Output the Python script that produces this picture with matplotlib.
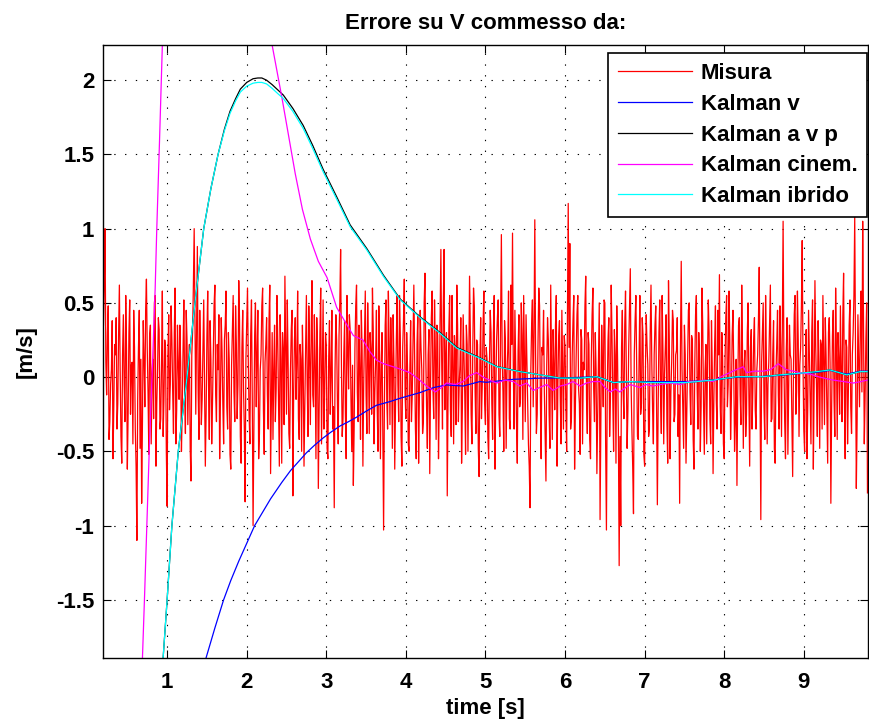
import numpy as np
import matplotlib
matplotlib.use("Agg")
import matplotlib.pyplot as plt

plt.rcParams["font.family"] = ["Liberation Sans", "DejaVu Sans"]
plt.rcParams["axes.unicode_minus"] = False

# measurement error (red), one value every 0.01 s from 0.2 to 9.8 s
misura = [
    0.35, 0.62, 1.00, 0.10, -0.12, 0.30, 0.48, -0.42, -0.30, -0.05, 0.05, 0.38, -0.55, -0.20, 0.22, 0.15, 0.40, -0.35, -0.18, 0.28, 0.62, 0.05, -0.40, -0.58, 0.15, 0.42, -0.05, -0.30, 0.55, 0.18, -0.62, -0.25, 0.30, 0.52, -0.25, 0.08, 0.10, -0.45, 0.45, 0.20, -0.35, -0.60, -1.10, -0.15, 0.20, 0.45, -0.48, 0.12,
    -0.85, -0.30, 0.38, 0.12, -0.20, 0.45, 0.66, 0.20, -0.10, -0.52, 0.28, 0.35, -0.45, 0.02, 0.12, -0.28, 0.50, 0.55, -0.60, -0.18, 0.05, 0.40, 0.32, -0.35, -0.28, 0.10, 0.58, -0.40, -0.15, 0.25, 0.20, -0.50, -0.87, 0.15, 0.42, -0.22, -0.05, 0.48, 0.25, -0.10, -0.38, 0.30, 0.60, -0.45, -0.22, 0.35, 0.08, -0.15,
    0.35, 0.10, -0.50, -0.22, 0.18, 0.52, -0.08, -0.38, 0.45, 0.25, -0.32, 0.05, 0.22, -0.48, -0.70, 0.15, 0.30, 0.62, 1.00, 0.40, -0.25, 0.30, 0.88, -0.10, -0.42, 0.45, 0.10, -0.32, -0.15, 0.20, 0.52, -0.05, -0.60, -0.25, 0.28, 0.58, -0.05, -0.42, 0.38, 0.12, -0.45, -0.18, 0.15, 0.48, 0.62, -0.12, -0.30, 0.22,
    0.05, 0.42, -0.55, -0.15, 0.40, 0.18, -0.18, -0.45, 0.25, 0.35, 0.58, -0.20, -0.35, 0.30, 0.12, -0.52, -0.62, 0.08, 0.32, 0.55, -0.10, -0.30, 0.48, 0.22, -0.28, -0.05, 0.65, 0.38, -0.40, -0.58, 0.20, 0.45, -0.08, -0.35, -0.84, 0.12, 0.35, 0.60, 0.10, -0.25, -0.45, 0.28, 0.52, -0.15, -1.00, -0.40, 0.28, 0.50,
    -0.20, 0.15, 0.45, -0.55, -0.38, 0.05, 0.15, 0.48, 0.60, -0.22, -0.52, 0.10, 0.22, 0.40, -0.12, -0.35, 0.38, 0.62, -0.65, -0.15, 0.30, -0.42, 0.05, 0.35, -0.30, -0.08, 0.55, 0.25, -0.18, -0.60, 0.42, 0.12, -0.58, 0.30, 0.18, -0.32, 0.68, 0.20, -0.25, 0.52, 0.10, -0.38, -0.48, 0.05, 0.32, 0.45, -0.80, -0.10,
    0.25, 0.40, -0.15, 0.10, 0.58, -0.28, -0.42, 0.22, 0.12, -0.50, 0.35, 0.05, -0.60, -0.18, 0.20, 0.55, -0.05, -0.40, 0.48, 0.15, -0.32, 0.28, 0.65, -0.12, -0.20, 0.42, 0.08, -0.55, 0.40, 0.18, -0.75, -0.22, 0.30, 0.60, -0.45, 0.02, 0.52, -0.35, -0.10, 0.30, 0.22, -0.48, -0.55, 0.12, 0.38, -0.25, 0.02, 0.45,
    -0.35, -0.20, -0.88, 0.05, 0.42, 0.25, -0.18, -0.45, 0.28, 0.50, 0.86, 0.10, -0.40, -0.28, 0.15, 0.38, -0.25, -0.55, 0.55, 0.20, -0.08, 0.42, 0.32, -0.15, -0.50, 0.08, -0.73, -0.35, 0.20, 0.48, 0.62, -0.10, -0.30, 0.35, 0.05, -0.42, 0.45, 0.18, -0.60, -0.05, 0.25, 0.58, -0.12, -0.38, 0.50, 0.12, -0.38, 0.30,
    0.18, -0.25, 0.60, 0.32, -0.45, -0.10, 0.10, 0.45, -0.22, -0.50, 0.48, 0.15, -0.55, 0.05, 0.30, -0.40, -1.03, -0.20, 0.35, 0.52, -0.15, -0.35, 0.58, 0.22, -0.32, 0.40, 0.12, -0.48, 0.42, 0.10, -0.62, -0.18, 0.25, 0.55, -0.05, -0.30, 0.55, 0.28, -0.40, -0.60, 0.20, 0.38, 0.66, -0.12, -0.28, 0.30, 0.08, -0.45,
    -0.50, 0.05, 0.38, -0.30, -0.12, 0.25, 0.62, 0.10, -0.35, -0.55, 0.22, 0.42, -0.58, -0.12, 0.45, 0.20, 0.05, -0.38, -0.30, 0.50, 0.70, 0.15, -0.20, -0.48, 0.15, 0.32, -0.65, -0.05, 0.40, 0.58, -0.08, -0.28, 0.52, 0.18, -0.42, 0.35, 0.28, -0.55, -0.15, 0.40, 0.86, 0.12, -0.35, 0.48, 0.86, -0.22, 0.10, 0.30,
    -0.80, -0.15, 0.32, 0.55, -0.22, -0.40, 0.55, 0.10, -0.45, 0.28, 0.18, -0.32, 0.62, 0.35, -0.30, -0.05, 0.08, 0.40, -0.58, -0.20, 0.42, 0.15, -0.12, -0.52, 0.35, 0.22, -0.50, 0.05, 0.68, 0.30, -0.25, -0.45, 0.15, 0.60, 0.48, -0.10, -0.38, 0.25, 0.22, -0.48, -0.67, 0.12, 0.40, -0.28, -0.05, 0.35, 0.58, -0.18,
    -0.32, 0.20, 0.12, -0.40, -0.55, 0.08, 0.45, 0.30, -0.18, -0.42, 0.30, 0.55, -0.62, -0.10, 0.25, 0.40, 0.52, -0.25, -0.40, 0.35, 0.96, 0.15, -0.10, -0.50, 0.38, 0.25, -0.48, 0.02, 0.18, 0.58, -0.28, -0.35, 0.62, 0.22, 0.97, 0.05, -0.35, 0.45, 0.05, -0.30, -0.58, 0.18, 0.42, -0.20, -0.15, 0.50, 0.28, -0.42,
    0.55, 0.10, -0.30, 0.42, 0.12, -0.20, -0.45, -0.60, -0.88, 0.05, 0.35, 0.52, -0.20, 0.30, 1.06, 0.15, -0.38, -0.25, 0.22, 0.60, 0.48, -0.15, -0.55, 0.20, 0.15, 0.45, -0.10, -0.40, -0.70, 0.08, 0.40, 0.25, -0.25, -0.48, 0.62, 0.10, -0.42, 0.32, 0.08, -0.22, 0.35, 0.55, -0.60, -0.05, 0.28, 0.38, -0.15, -0.45,
    0.45, 0.05, -0.35, 0.28, 0.20, -0.18, -0.50, 0.40, 1.17, 0.20, 0.90, -0.35, -0.28, 0.15, 0.38, 0.55, -0.62, -0.20, 0.15, 0.42, 0.55, -0.08, -0.18, -0.52, 0.32, 0.25, -0.45, 0.10, 0.05, 0.48, 0.68, -0.15, -0.38, 0.30, 0.22, -0.42, -0.55, 0.12, 0.42, 0.60, -0.08, -0.30, 0.30, 0.05, -0.65, -0.25, 0.18, 0.50,
    -0.96, -0.30, 0.35, 0.10, -0.20, 0.52, 0.50, -0.45, -1.03, -0.10, 0.25, 0.40, -0.40, -0.15, 0.62, 0.28, -0.15, -0.50, 0.32, 0.15, -0.58, 0.48, 0.12, -0.35, -1.27, -0.40, -1.00, 0.20, 0.45, -0.10, -0.28, 0.35, 0.58, 0.08, -0.48, -0.22, 0.20, 0.45, 0.73, -0.05, -0.35, -0.60, -0.92, 0.15, 0.38, 0.55, 0.05, -0.40,
    -0.42, 0.12, 0.55, -0.25, -0.18, 0.40, 0.28, -0.52, -0.60, 0.05, 0.42, 0.22, 0.08, -0.40, -0.35, 0.30, 0.62, 0.10, -0.22, -0.45, 0.15, 0.35, 0.48, -0.15, -0.86, -0.20, 0.30, 0.52, -0.12, -0.38, 0.55, 0.18, -0.45, 0.02, 0.20, 0.42, -0.30, -0.58, 0.65, 0.25, -0.55, -0.10, 0.10, 0.45, 0.38, -0.30, -0.25, 0.15,
    0.18, 0.40, -0.40, -0.12, -0.85, 0.20, 0.78, 0.05, -0.22, -0.48, 0.35, 0.15, -0.58, -0.25, 0.12, 0.45, 0.50, -0.10, -0.32, 0.28, 0.25, -0.42, -0.62, 0.08, 0.42, 0.55, -0.08, -0.35, 0.30, 0.12, -0.50, -0.20, 0.60, 0.35, -0.18, -0.52, 0.05, 0.22, -0.45, 0.10, 0.52, 0.30, -0.28, -0.45, 0.38, 0.05, -0.65, -0.15,
    0.22, 0.48, -0.15, -0.35, 0.45, 0.15, 0.69, -0.20, -0.38, 0.30, 0.12, -0.45, -0.55, 0.10, 0.40, 0.55, -0.20, -0.05, 0.58, 0.25, -0.42, -0.15, 0.28, 0.45, 0.05, -0.50, -0.30, 0.12, -0.73, -0.10, 0.35, 0.40, -0.12, -0.32, 0.62, 0.18, -0.48, 0.05, 0.18, -0.40, -0.25, 0.30, 0.50, -0.12, -0.60, 0.20, 0.32, -0.35,
    -0.08, 0.25, 0.40, -0.22, -0.35, 0.05, 0.15, 0.38, 0.74, -0.15, -0.96, 0.10, 0.30, 0.50, -0.20, -0.42, 0.55, 0.12, -0.45, -0.05, 0.10, 0.35, 0.62, -0.30, -0.28, 0.15, 0.38, -0.48, -0.58, 0.02, 0.22, 0.45, -0.12, -0.35, 0.48, 0.20, -0.40, 0.30, 1.05, 0.12, -0.30, -0.55, 0.18, 0.40, -0.52, -0.10, 0.35, 0.15,
    0.12, -0.30, -0.67, 0.05, 0.42, 0.55, -0.25, -0.10, 0.58, 0.25, -0.40, 0.08, 0.20, 0.48, 0.92, 0.10, -0.35, -0.50, 0.10, 0.32, -0.55, -0.20, 0.45, 0.15, -0.18, -0.45, 0.30, 0.52, -0.62, -0.05, 0.65, 0.20, -0.08, -0.40, 0.38, 0.05, -0.48, 0.25, 0.22, -0.35, 0.55, 0.12, -0.32, 0.40, 0.15, -0.22, -0.58, 0.30,
    0.40, 0.10, -0.85, -0.20, 0.28, 0.45, -0.15, -0.40, 0.60, 0.18, -0.42, 0.30, 0.12, -0.25, 0.48, 0.05, -0.30, 0.40, 0.70, -0.12, -0.55, 0.25, 0.20, -0.45, -0.10, 0.35, 0.52, -0.20, -0.38, 0.15, 0.30, 0.55, 1.08, 0.20, -0.75, -0.30, 0.42, 0.12, -0.20, 0.35, 0.58, -0.10, 1.05, 0.40, -0.45, -0.15, 0.25, 0.50, -0.78,
]
t_misura = np.linspace(0.2, 9.8, len(misura))

# Kalman v (blue)
t_v = [0.2, 1.35, 1.49, 1.60, 1.71, 1.80, 1.90, 2.00, 2.10, 2.20, 2.30, 2.44, 2.55, 2.65, 2.75, 2.85, 2.96, 3.06, 3.17, 3.28,
       3.38, 3.50, 3.63, 3.80, 3.93, 4.18, 4.35, 4.51, 4.72, 4.93, 5.01, 5.35, 5.69, 6.02, 6.40, 6.61, 6.82, 7.10, 7.52, 7.86,
       8.16, 8.49, 8.70, 8.95, 9.13, 9.33, 9.54, 9.71, 9.80]
k_v = [-6.0, -2.2, -1.89, -1.69, -1.5, -1.37, -1.24, -1.12, -1.0, -0.91, -0.82, -0.71, -0.63, -0.57, -0.51, -0.46, -0.41, -0.37, -0.33, -0.30,
       -0.27, -0.23, -0.19, -0.165, -0.142, -0.104, -0.07, -0.053, -0.06, -0.03, -0.035, -0.015, -0.007, -0.005, 0.003, -0.037, -0.03, -0.03, -0.03, -0.02,
       0.0, 0.005, 0.012, 0.024, 0.03, 0.045, 0.02, 0.04, 0.04]

# Kalman a v p (black) and Kalman ibrido (cyan) share the time points
t_ab = [0.2, 0.9, 0.95, 1.0, 1.06, 1.14, 1.25, 1.35, 1.46, 1.55, 1.64, 1.72, 1.79, 1.86, 1.92, 2.0, 2.08, 2.14, 2.19, 2.25,
        2.32, 2.39, 2.46, 2.58, 2.71, 2.83, 2.96, 3.13, 3.30, 3.51, 3.72, 3.93, 4.18, 4.43, 4.64, 4.93, 5.14, 5.43, 5.77, 5.94,
        6.19, 6.40, 6.61, 6.82, 7.10, 7.52, 7.86, 8.16, 8.49, 8.70, 8.95, 9.13, 9.33, 9.54, 9.71, 9.80]
k_avp = [-9.0, -2.3, -1.89, -1.5, -1.0, -0.5, 0.0, 0.5, 1.0, 1.27, 1.5, 1.67, 1.79, 1.875, 1.94, 1.985, 2.01, 2.015, 2.015, 2.0,
         1.97, 1.935, 1.90, 1.81, 1.695, 1.56, 1.40, 1.215, 1.025, 0.865, 0.685, 0.525, 0.405, 0.30, 0.20, 0.13, 0.072, 0.038, 0.008, -0.007,
         -0.007, 0.003, -0.037, -0.03, -0.037, -0.037, -0.02, 0.003, 0.003, 0.015, 0.026, 0.035, 0.048, 0.015, 0.037, 0.037]
k_ibr = [-9.0, -2.3, -1.89, -1.5, -1.0, -0.5, 0.0, 0.5, 1.0, 1.27, 1.5, 1.66, 1.776, 1.86, 1.92, 1.96, 1.98, 1.985, 1.985, 1.975,
         1.945, 1.91, 1.877, 1.79, 1.675, 1.54, 1.384, 1.2, 1.013, 0.856, 0.677, 0.52, 0.40, 0.295, 0.195, 0.127, 0.07, 0.037, 0.008, -0.007,
         -0.007, 0.003, -0.037, -0.03, -0.037, -0.037, -0.02, 0.003, 0.003, 0.015, 0.026, 0.035, 0.048, 0.015, 0.037, 0.037]

# Kalman cinem. (magenta)
t_cin = [0.55, 0.69, 0.715, 0.745, 0.775, 0.81, 0.85, 0.87, 0.905, 0.94, 1.0, 2.2, 2.32, 2.44, 2.61, 2.70, 2.80, 2.90, 3.01, 3.13,
         3.25, 3.34, 3.46, 3.55, 3.63, 3.72, 3.84, 3.95, 4.05, 4.15, 4.26, 4.37, 4.45, 4.51, 4.62, 4.72, 4.80, 4.89, 4.97, 5.05,
         5.14, 5.25, 5.35, 5.43, 5.52, 5.60, 5.68, 5.77, 5.85, 5.94, 6.02, 6.10, 6.19, 6.27, 6.35, 6.44, 6.50, 6.57, 6.63, 6.69,
         6.76, 6.82, 6.94, 7.02, 7.10, 7.20, 7.32, 7.45, 7.55, 7.65, 7.75, 7.86, 7.95, 8.07, 8.15, 8.24, 8.28, 8.38, 8.49, 8.58,
         8.68, 8.78, 8.87, 8.95, 9.08, 9.20, 9.28, 9.37, 9.50, 9.62, 9.72, 9.80]
k_cin = [-4.2, -1.89, -1.5, -1.0, -0.5, 0.0, 0.6, 1.0, 1.6, 2.235, 3.2, 2.6, 2.235, 1.89, 1.37, 1.13, 0.93, 0.78, 0.67, 0.47,
         0.36, 0.28, 0.25, 0.17, 0.115, 0.09, 0.07, 0.05, 0.03, -0.01, -0.06, -0.10, -0.07, -0.04, -0.05, -0.03, 0.01, 0.03, 0.0, -0.02,
         -0.04, -0.02, -0.03, -0.06, -0.04, -0.09, -0.07, -0.05, -0.09, -0.06, -0.05, -0.03, -0.06, -0.04, -0.03, -0.03, -0.07, -0.10, -0.08, -0.10,
         -0.07, -0.05, -0.07, -0.05, -0.06, -0.05, -0.04, -0.05, -0.03, -0.03, -0.02, -0.03, 0.0, 0.03, 0.05, 0.07, 0.03, 0.04, 0.04, 0.05,
         0.09, 0.05, 0.04, 0.03, 0.02, 0.0, -0.01, -0.02, -0.03, -0.04, -0.03, -0.02]

xticks = [1, 2, 3, 4, 5, 6, 7, 8, 9]
yticks = [-1.5, -1, -0.5, 0, 0.5, 1, 1.5, 2]
ytick_labels = ["-1.5", "-1", "-0.5", "0", "0.5", "1", "1.5", "2"]

fig = plt.figure(figsize=(8.7, 7.24), dpi=100)
ax = fig.add_axes([0.118, 0.0916, 0.880, 0.8458])

ax.plot(t_misura, misura, color="#ff0000", lw=0.9, label="Misura")
ax.plot(t_v, k_v, color="#0000ff", lw=0.9, label="Kalman v")
ax.plot(t_ab, k_avp, color="black", lw=0.9, label="Kalman a v p")
ax.plot(t_cin, k_cin, color="#ff00ff", lw=0.9, label="Kalman cinem.")
ax.plot(t_ab, k_ibr, color="#00ffff", lw=0.9, label="Kalman ibrido")

ax.set_xlim(0.19, 9.81)
ax.set_ylim(-1.89, 2.235)
ax.set_xticks(xticks)
ax.set_xticklabels([str(x) for x in xticks])
ax.set_yticks(yticks)
ax.set_yticklabels(ytick_labels)
ax.grid(True, color="black", linestyle=(0, (1.2, 8.5)), linewidth=0.8)
ax.tick_params(direction="in", top=True, right=True, length=6, width=0.8, labelsize=16)
ax.tick_params(axis="x", pad=10)
ax.tick_params(axis="y", pad=6)
for lab in ax.get_xticklabels() + ax.get_yticklabels():
    lab.set_fontweight("bold")
for s in ax.spines.values():
    s.set_linewidth(1.0)

ax.set_title("Errore su V commesso da:", fontsize=16, fontweight="bold", pad=12)
ax.set_xlabel("time [s]", fontsize=16, fontweight="bold", labelpad=4)
ax.set_ylabel("[m/s]", fontsize=16, fontweight="bold", labelpad=14)

leg = ax.legend(loc="upper right", bbox_to_anchor=(0.9987, 0.9874), borderaxespad=0,
                prop={"size": 16, "weight": "bold"}, handlelength=3.3, handletextpad=0.4,
                labelspacing=0.44, borderpad=0.45, fancybox=False, framealpha=1)
leg.get_frame().set_edgecolor("black")
leg.get_frame().set_linewidth(1.2)

fig.savefig("out.png", dpi=100)
